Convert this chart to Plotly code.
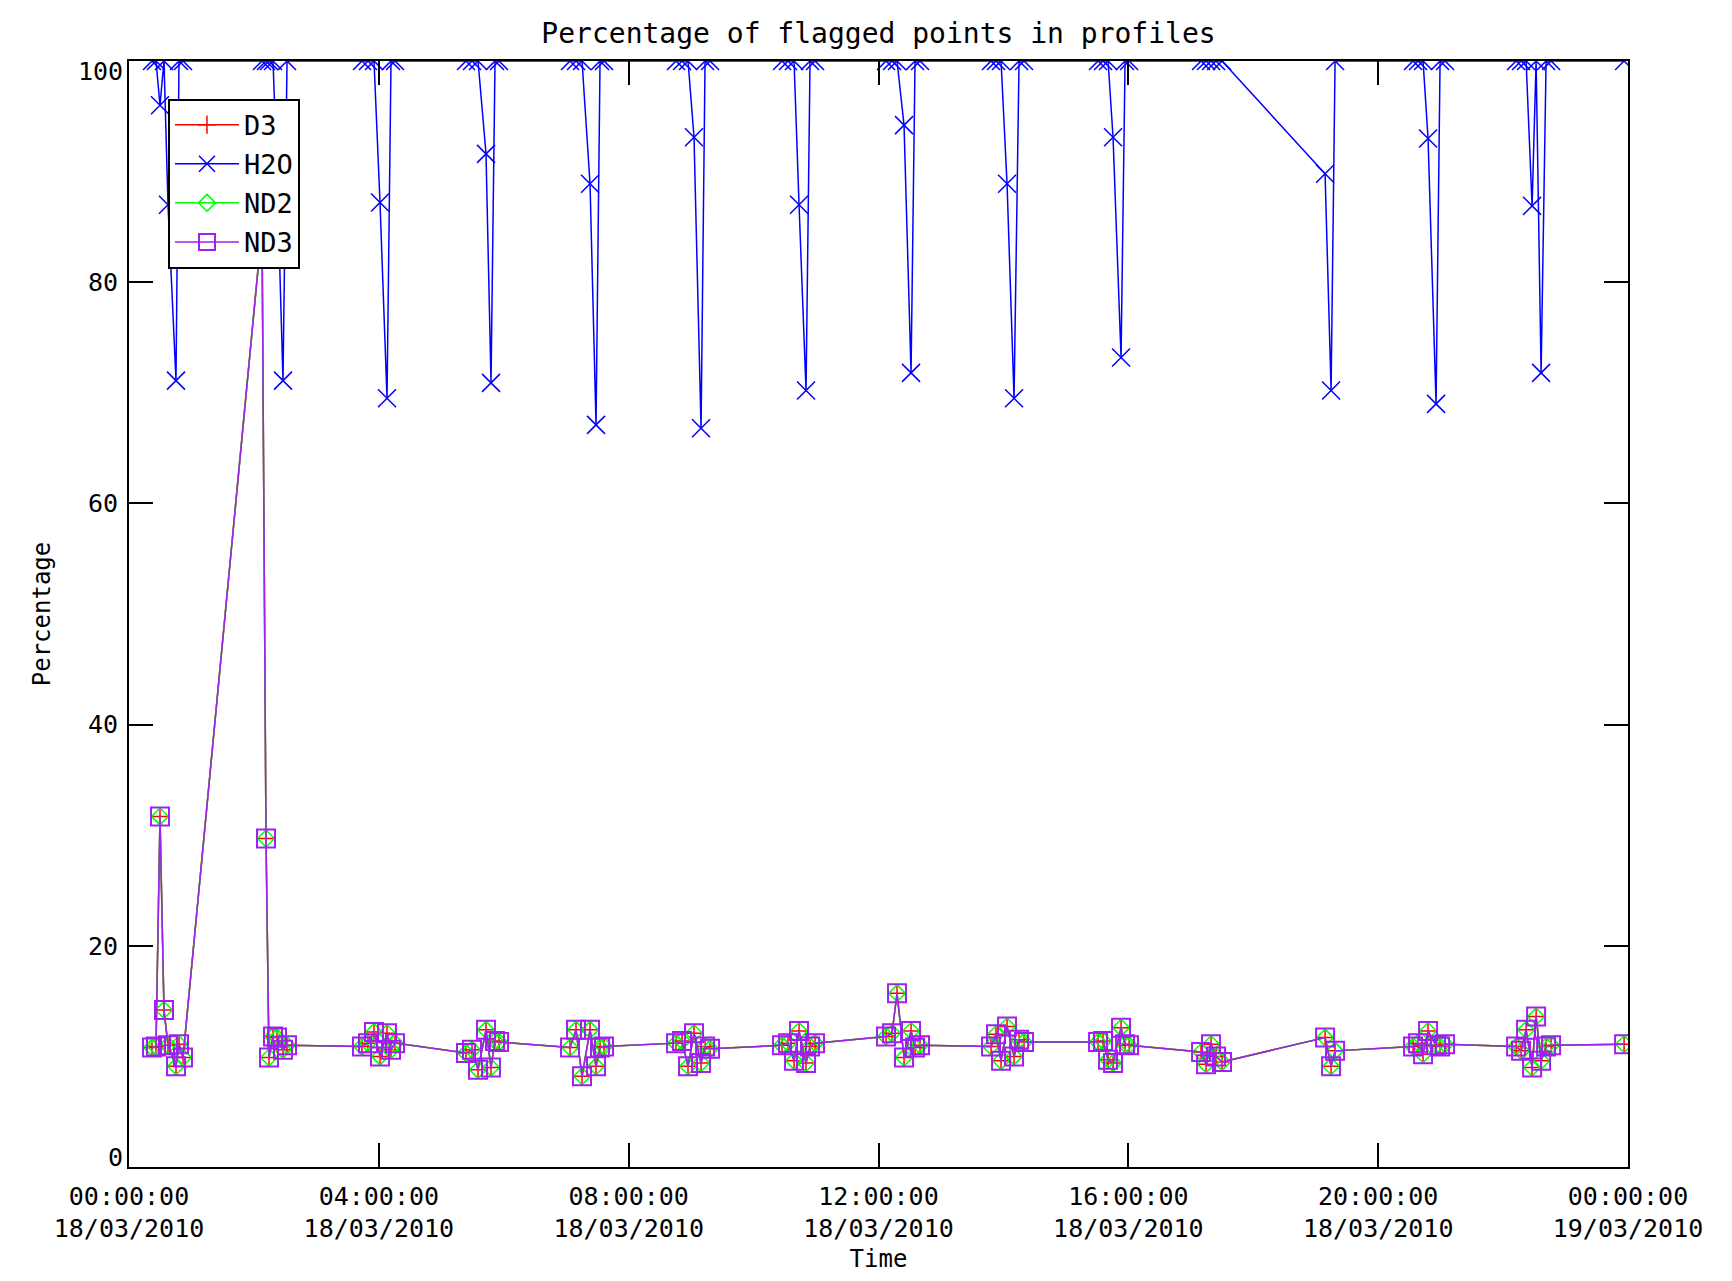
import plotly.graph_objects as go

DAY = "2010-03-18"

# profile times (HH:MM:SS on 18/03/2010)
times = [
    "00:22:06", "00:25:56", "00:29:47", "00:33:37", "00:37:28", "00:45:09", "00:48:02", "00:51:53",
    "02:07:47", "02:11:37", "02:14:30", "02:18:20", "02:22:11", "02:27:57", "02:31:48",
    "03:43:50", "03:49:36", "03:55:22", "04:01:08", "04:07:52", "04:11:42", "04:15:33",
    "05:23:45", "05:29:31", "05:35:17", "05:42:58", "05:47:46", "05:51:37", "05:55:28",
    "07:03:40", "07:09:26", "07:15:12", "07:22:53", "07:28:39", "07:32:30", "07:36:20",
    "08:45:30", "08:51:17", "08:57:01", "09:02:47", "09:09:32", "09:13:23", "09:18:11",
    "10:27:20", "10:33:05", "10:38:52", "10:43:40", "10:50:23", "10:54:14", "10:59:02",
    "12:07:14", "12:13:00", "12:17:48", "12:24:32", "12:31:16", "12:35:06", "12:39:55",
    "13:48:06", "13:52:55", "13:57:43", "14:03:29", "14:10:13", "14:15:01", "14:19:49",
    "15:30:55", "15:35:43", "15:40:31", "15:45:19", "15:53:00", "15:56:52", "16:00:42",
    "17:09:52", "17:14:40", "17:19:28", "17:24:17", "17:30:00",
    "19:09:00", "19:14:46", "19:18:36",
    "20:33:30", "20:38:19", "20:43:07", "20:47:56", "20:55:37", "20:59:28", "21:04:16",
    "22:12:30", "22:17:18", "22:22:06", "22:27:52", "22:31:43", "22:36:31", "22:41:19", "22:46:07",
    "23:56:14",
]

h2o_pct = [
    100, 100, 96.0, 100, 87.0, 71.1, 100, 100,
    100, 100, 100, 100, 90.0, 71.1, 100,
    100, 100, 100, 87.2, 69.5, 100, 100,
    100, 100, 100, 91.6, 70.9, 100, 100,
    100, 100, 100, 88.9, 67.1, 100, 100,
    100, 100, 100, 93.1, 66.8, 100, 100,
    100, 100, 100, 87.0, 70.2, 100, 100,
    100, 100, 100, 94.2, 71.8, 100, 100,
    100, 100, 100, 88.9, 69.5, 100, 100,
    100, 100, 100, 93.1, 73.2, 100, 100,
    100, 100, 100, 100, 100,
    89.8, 70.2, 100,
    100, 100, 100, 93.0, 69.0, 100, 100,
    100, 100, 100, 86.9, 100, 71.8, 100, 100,
    100,
]

nd3_pct = [
    10.8, 10.9, 31.7, 14.2, 11.0, 9.1, 11.1, 9.9,
    85.0, 29.7, 9.9, 11.8, 11.7, 10.6, 11.0,
    10.9, 11.2, 12.2, 10.0, 12.1, 10.6, 11.2,
    10.3, 10.6, 8.8, 12.4, 9.0, 11.4, 11.3,
    10.8, 12.4, 8.2, 12.4, 9.1, 10.8, 10.9,
    11.2, 11.4, 9.1, 12.1, 9.4, 10.9, 10.7,
    11.0, 11.2, 9.6, 12.3, 9.4, 10.9, 11.2,
    11.8, 12.1, 15.7, 9.9, 12.3, 10.8, 11.0,
    10.9, 12.0, 9.6, 12.7, 10.0, 11.5, 11.3,
    11.3, 11.4, 9.7, 9.4, 12.6, 11.1, 11.0,
    10.4, 9.3, 11.1, 10.0, 9.5,
    11.7, 9.1, 10.5,
    10.9, 11.2, 10.2, 12.3, 11.0, 10.9, 11.1,
    10.9, 10.5, 12.4, 9.0, 13.6, 9.6, 10.9, 11.0,
    11.1,
]
# D3 and ND2 coincide exactly with ND3 in the picture (only their markers show through)
d3_pct = list(nd3_pct)
nd2_pct = list(nd3_pct)

tick_vals = ["2010-03-18 00:00", "2010-03-18 04:00", "2010-03-18 08:00", "2010-03-18 12:00",
             "2010-03-18 16:00", "2010-03-18 20:00", "2010-03-19 00:00"]
tick_time_text = ["00:00:00", "04:00:00", "08:00:00", "12:00:00", "16:00:00", "20:00:00", "00:00:00"]
tick_date_text = ["18/03/2010", "18/03/2010", "18/03/2010", "18/03/2010", "18/03/2010", "18/03/2010",
                  "19/03/2010"]
y_tick_vals = [0, 20, 40, 60, 80, 100]
y_tick_text = ["", "20", "40", "60", "80", ""]   # end labels are nudged inside the axis below
y_end_labels = [(0, "0"), (100, "100")]
x_range = ["2010-03-18 00:00", "2010-03-19 00:00"]

x = [f"{DAY} {t}" for t in times]

FONT = "DejaVu Sans Mono"
RED = "rgb(255,0,0)"
BLUE = "rgb(0,0,255)"
GREEN = "rgb(0,255,0)"
PURPLE = "rgb(160,32,240)"
TICK_SIZE = 25

fig = go.Figure()
fig.add_trace(go.Scatter(x=x, y=d3_pct, name="D3", mode="lines+markers", legendgroup="a",
                         line=dict(color=RED, width=1.5),
                         marker=dict(symbol="cross-thin", size=13, line=dict(color=RED, width=1.5))))
fig.add_trace(go.Scatter(x=x, y=h2o_pct, name="H2O", mode="lines+markers", legendgroup="b",
                         line=dict(color=BLUE, width=1.5),
                         marker=dict(symbol="x-thin", size=18, line=dict(color=BLUE, width=1.5))))
fig.add_trace(go.Scatter(x=x, y=nd2_pct, name="ND2", mode="lines+markers", legendgroup="c",
                         line=dict(color=GREEN, width=1.5),
                         marker=dict(symbol="diamond-open", size=13, color=GREEN, line=dict(width=1.5))))
fig.add_trace(go.Scatter(x=x, y=nd3_pct, name="ND3", mode="lines+markers", legendgroup="d",
                         line=dict(color=PURPLE, width=1.5),
                         marker=dict(symbol="square-open", size=18, color=PURPLE, line=dict(width=2))))
# empty trace so the second (date) tick-label axis is instantiated
fig.add_trace(go.Scatter(x=[], y=[], xaxis="x2", yaxis="y", showlegend=False, hoverinfo="skip"))

axis_common = dict(showline=True, linecolor="black", linewidth=2, mirror="ticks",
                   ticks="inside", ticklen=24, tickwidth=2, tickcolor="black",
                   showgrid=False, zeroline=False, automargin=False,
                   tickfont=dict(family=FONT, size=TICK_SIZE, color="black"))

fig.update_layout(
    xaxis=dict(type="date", range=x_range, tickmode="array", tickvals=tick_vals, ticktext=tick_time_text,
               ticklabelstandoff=6,
               title=dict(text="Time", font=dict(family=FONT, size=24, color="black"), standoff=44),
               **axis_common),
    xaxis2=dict(type="date", range=x_range, overlaying="x", anchor="y", side="bottom",
                tickmode="array", tickvals=tick_vals, ticktext=tick_date_text,
                ticks="", showline=False, showgrid=False, zeroline=False, automargin=False,
                ticklabelstandoff=44, tickfont=dict(family=FONT, size=TICK_SIZE, color="black")),
    yaxis=dict(range=[0, 100], tickmode="array", tickvals=y_tick_vals, ticktext=y_tick_text,
               ticklabelstandoff=4,
               title=dict(text="Percentage", font=dict(family=FONT, size=24, color="black"), standoff=30),
               **axis_common),
)

for val, txt in y_end_labels:
    fig.add_annotation(x=0, xref="paper", y=val, yref="y", text=txt, showarrow=False,
                       xanchor="right", yanchor="middle", xshift=-4,
                       yshift=10 if val == 0 else -10,
                       font=dict(family=FONT, size=TICK_SIZE, color="black"))

fig.update_layout(
    width=1716, height=1265, autosize=False,
    margin=dict(l=121, r=96, t=53, b=106),
    paper_bgcolor="white", plot_bgcolor="white",
    title=dict(text="Percentage of flagged points in profiles", xref="paper", x=0.5, xanchor="center",
               y=0.980, yanchor="middle", font=dict(family=FONT, size=28, color="black")),
    showlegend=True,
    legend=dict(x=0.026, y=0.966, xanchor="left", yanchor="top", bgcolor="white",
                bordercolor="black", borderwidth=2, font=dict(family=FONT, size=27, color="black"),
                traceorder="grouped", tracegroupgap=1, itemwidth=64),
    font=dict(family=FONT, color="black"),
)

fig.write_html("out.html")
